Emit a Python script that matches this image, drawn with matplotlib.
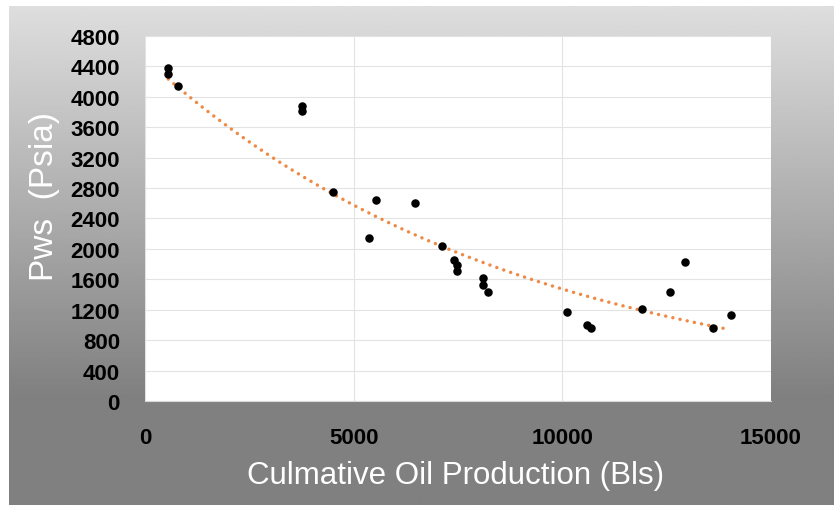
import numpy as np
import matplotlib
matplotlib.use("Agg")
import matplotlib.pyplot as plt

# cumulative oil production (Bls) and static pressure (psia)
oil_prod = [558, 558, 784, 3769, 3769, 4498, 5360, 5528, 6470, 7110, 7404, 7483,
            7483, 8106, 8106, 8226, 10105, 10599, 10687, 11902, 12580, 12940,
            13618, 14035]
pws = [4379, 4300, 4146, 3876, 3810, 2753, 2140, 2647, 2604, 2042, 1854, 1789,
       1714, 1618, 1526, 1430, 1166, 1003, 956, 1206, 1440, 1824, 956, 1131]

x_ticks = [0, 5000, 10000, 15000]
y_ticks = list(range(0, 4801, 400))

W, H = 834, 506
fig = plt.figure(figsize=(W / 100, H / 100), dpi=100)
fig.patch.set_facecolor("white")

# grey gradient backdrop (chart area)
bg = fig.add_axes([9 / W, 0, (W - 9) / W, (H - 7) / H])
rows = np.linspace(7, H, 200)
shade = np.interp(rows, [7, 400, H], [0.87, 0.50, 0.50])
bg.imshow(np.repeat(shade[:, None], 2, axis=1), cmap="gray", vmin=0, vmax=1,
          aspect="auto", extent=[0, 1, 0, 1], origin="upper")
bg.set_axis_off()

ax = fig.add_axes([145 / W, (H - 402) / H, (771 - 145) / W, (402 - 37) / H])
ax.set_facecolor("white")

ax.scatter(oil_prod, pws, s=26, color="black", zorder=3)

# exponential trendline (least squares on ln y)
xs = np.array(oil_prod, dtype=float)
b, a = np.polyfit(xs, np.log(np.array(pws, dtype=float)), 1)
xt = np.linspace(xs.min(), 13940, 200)
ax.plot(xt, np.exp(a + b * xt), color="#EE8A45", lw=2.5,
        dashes=(0.01, 2.1), dash_capstyle="round", zorder=2)

ax.set_xlim(0, 15000)
ax.set_ylim(0, 4800)
ax.set_xticks(x_ticks)
ax.set_yticks(y_ticks)
ax.grid(True, color="#e3e3e3", lw=0.8)
ax.set_axisbelow(True)
for s in ["top", "right", "left"]:
    ax.spines[s].set_visible(False)
ax.spines["bottom"].set_color("#d9d9d9")

ax.tick_params(length=0)
ax.tick_params(axis="y", pad=18)
ax.tick_params(axis="x", pad=19)
for lab in ax.get_xticklabels() + ax.get_yticklabels():
    lab.set_fontfamily("Liberation Sans")
    lab.set_fontweight("bold")
    lab.set_fontsize(16)
    lab.set_color("black")

fig.text(456 / W, 1 - 476 / H, "Culmative Oil Production (Bls)", color="white",
         family="Liberation Sans", fontsize=22.5, ha="center", va="center")
fig.text(45 / W, 1 - 197 / H, "Pws  (Psia)", color="white", rotation=90,
         family="Liberation Sans", fontsize=24, ha="center", va="center")

fig.savefig("out.png", dpi=100)
